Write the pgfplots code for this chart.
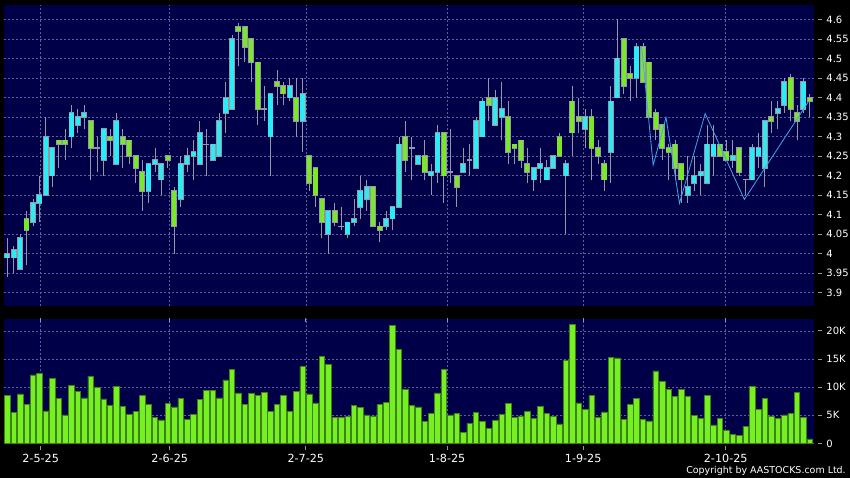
\documentclass[border=0pt]{standalone}
\usepackage{pgfplots}
\pgfplotsset{compat=1.18}
\usepackage{pgfplotstable}
\usepackage{fontspec}
\setmainfont{DejaVu Sans}

\definecolor{navy}{RGB}{0,0,72}
\definecolor{upc}{RGB}{45,235,245}
\definecolor{dnc}{RGB}{120,232,40}
\definecolor{volc}{RGB}{118,240,35}
\definecolor{volb}{RGB}{60,130,20}
\definecolor{wick}{RGB}{150,150,165}
\definecolor{gridc}{RGB}{95,95,160}
\definecolor{zig}{RGB}{70,165,235}

\pgfplotstableread{
x o h l c
0 3.99 4.04 3.94 4.00
1 3.99 4.02 3.95 4.01
2 3.96 4.05 3.96 4.04
3 4.09 4.11 3.97 4.06
4 4.08 4.14 4.07 4.13
5 4.13 4.20 4.08 4.15
6 4.15 4.35 4.15 4.30
7 4.20 4.27 4.17 4.27
8 4.29 4.29 4.22 4.28
9 4.29 4.32 4.24 4.28
10 4.30 4.38 4.27 4.36
11 4.33 4.37 4.31 4.35
12 4.35 4.38 4.32 4.36
13 4.34 4.34 4.19 4.27
14 4.27 4.30 4.21 4.27
15 4.24 4.32 4.20 4.32
16 4.30 4.32 4.25 4.29
17 4.23 4.36 4.23 4.34
18 4.30 4.32 4.22 4.28
19 4.29 4.29 4.23 4.25
20 4.25 4.25 4.18 4.22
21 4.21 4.24 4.11 4.16
22 4.16 4.23 4.13 4.23
23 4.23 4.27 4.21 4.24
24 4.19 4.23 4.15 4.23
25 4.25 4.25 4.22 4.24
26 4.16 4.17 4.00 4.07
27 4.14 4.25 4.12 4.23
28 4.23 4.27 4.21 4.25
29 4.25 4.29 4.19 4.26
30 4.23 4.34 4.23 4.31
31 4.28 4.32 4.20 4.28
32 4.24 4.28 4.24 4.28
33 4.25 4.36 4.25 4.34
34 4.36 4.44 4.31 4.40
35 4.37 4.56 4.37 4.55
36 4.58 4.59 4.48 4.57
37 4.58 4.58 4.49 4.53
38 4.55 4.55 4.44 4.49
39 4.49 4.49 4.33 4.37
40 4.37 4.43 4.34 4.37
41 4.30 4.41 4.20 4.41
42 4.44 4.47 4.38 4.43
43 4.43 4.44 4.38 4.41
44 4.40 4.45 4.39 4.43
45 4.40 4.45 4.30 4.34
46 4.34 4.45 4.26 4.41
47 4.25 4.25 4.16 4.18
48 4.22 4.22 4.12 4.15
49 4.14 4.14 4.04 4.08
50 4.05 4.11 4.00 4.11
51 4.11 4.13 4.07 4.08
52 4.07 4.12 4.06 4.07
53 4.05 4.08 4.04 4.08
54 4.08 4.14 4.07 4.09
55 4.12 4.20 4.09 4.16
56 4.14 4.19 4.11 4.17
57 4.17 4.17 4.07 4.07
58 4.07 4.08 4.03 4.06
59 4.07 4.11 4.06 4.09
60 4.09 4.12 4.06 4.12
61 4.12 4.30 4.12 4.28
62 4.30 4.34 4.21 4.24
63 4.27 4.30 4.19 4.27
64 4.23 4.25 4.23 4.25
65 4.25 4.29 4.19 4.21
66 4.20 4.23 4.15 4.21
67 4.21 4.33 4.18 4.31
68 4.31 4.31 4.13 4.20
69 4.21 4.32 4.18 4.21
70 4.20 4.20 4.12 4.17
71 4.21 4.27 4.21 4.23
72 4.24 4.28 4.20 4.24
73 4.22 4.35 4.22 4.34
74 4.30 4.40 4.30 4.39
75 4.40 4.45 4.34 4.38
76 4.33 4.42 4.33 4.40
77 4.35 4.44 4.29 4.37
78 4.35 4.39 4.23 4.26
79 4.28 4.28 4.23 4.27
80 4.29 4.29 4.22 4.24
81 4.23 4.27 4.18 4.21
82 4.19 4.22 4.16 4.22
83 4.22 4.27 4.18 4.23
84 4.19 4.24 4.19 4.22
85 4.22 4.25 4.22 4.25
86 4.30 4.31 4.25 4.25
87 4.20 4.24 4.05 4.23
88 4.39 4.43 4.25 4.31
89 4.35 4.40 4.31 4.34
90 4.32 4.37 4.27 4.35
91 4.35 4.37 4.19 4.27
92 4.27 4.29 4.23 4.25
93 4.23 4.24 4.16 4.19
94 4.26 4.43 4.18 4.39
95 4.40 4.60 4.40 4.50
96 4.55 4.55 4.41 4.43
97 4.46 4.48 4.39 4.45
98 4.45 4.54 4.40 4.53
99 4.53 4.54 4.44 4.44
100 4.49 4.49 4.35 4.35
101 4.36 4.37 4.29 4.32
102 4.33 4.33 4.24 4.27
103 4.27 4.28 4.19 4.26
104 4.28 4.29 4.19 4.22
105 4.23 4.23 4.13 4.19
106 4.15 4.25 4.13 4.17
107 4.18 4.25 4.16 4.20
108 4.20 4.23 4.15 4.21
109 4.18 4.33 4.18 4.28
110 4.25 4.33 4.20 4.28
111 4.28 4.28 4.25 4.25
112 4.26 4.29 4.24 4.24
113 4.24 4.29 4.22 4.25
114 4.27 4.27 4.20 4.21
115 4.19 4.19 4.15 4.19
116 4.19 4.28 4.19 4.27
117 4.25 4.31 4.22 4.27
118 4.22 4.34 4.17 4.34
119 4.35 4.39 4.31 4.34
120 4.36 4.39 4.32 4.37
121 4.38 4.45 4.36 4.44
122 4.45 4.46 4.34 4.37
123 4.36 4.38 4.29 4.34
124 4.37 4.45 4.36 4.44
125 4.40 4.41 4.35 4.39
}\ohlc

\pgfplotstableread{
x v
0 8.5
1 5.5
2 8.8
3 6.9
4 12.2
5 12.5
6 5.8
7 11.5
8 8.0
9 5.1
10 10.3
11 9.3
12 8.1
13 11.9
14 10.0
15 7.9
16 6.7
17 10.1
18 6.6
19 5.2
20 5.7
21 8.5
22 6.9
23 4.6
24 4.2
25 7.1
26 6.5
27 8.0
28 4.3
29 5.2
30 7.8
31 9.4
32 9.4
33 8.1
34 11.3
35 13.1
36 9.0
37 6.9
38 8.9
39 8.6
40 9.1
41 5.7
42 6.9
43 8.6
44 5.7
45 9.3
46 13.7
47 8.8
48 7.2
49 15.4
50 14.1
51 4.6
52 4.6
53 4.8
54 6.8
55 6.4
56 5.1
57 4.9
58 6.9
59 7.3
60 20.9
61 16.7
62 9.6
63 6.8
64 6.5
65 3.9
66 5.3
67 9.0
68 13.2
69 5.1
70 5.3
71 2.0
72 3.6
73 5.5
74 3.9
75 2.7
76 4.1
77 5.2
78 7.1
79 4.7
80 4.9
81 5.7
82 4.5
83 6.6
84 5.3
85 4.8
86 3.5
87 14.8
88 21.1
89 7.2
90 6.1
91 8.5
92 4.7
93 5.6
94 15.3
95 15.2
96 4.3
97 7.0
98 8.0
99 4.3
100 4.0
101 12.9
102 11.0
103 9.6
104 8.4
105 9.6
106 8.4
107 5.0
108 4.5
109 8.5
110 3.3
111 4.5
112 2.3
113 1.6
114 1.5
115 3.1
116 10.1
117 6.0
118 8.0
119 4.9
120 4.4
121 5.1
122 5.3
123 9.1
124 4.7
125 0.8
}\vol

\pgfplotsset{
  chartbase/.style={
    scale only axis,
    width=607.5pt,
    xmin=-0.51, xmax=125.65,
    axis background/.style={fill=navy},
    axis line style={draw=none},
    xtick={5.2,25.3,46.5,68.5,89.7,111.9},
    grid=major,
    major grid style={gridc, line width=0.4pt, dash pattern=on 1.5pt off 1.5pt},
    ytick pos=right, yticklabel pos=right,
    tick align=outside,
    major tick length=3pt,
    tick style={color=wick, line width=0.6pt},
    ytick style={xshift=3pt},
    xtick style={yshift=-2.2pt},
    yticklabel style={font=\fontsize{7.5}{9}\selectfont, text=white, xshift=2.8pt},
    xticklabel style={font=\fontsize{8.4}{10}\selectfont, text=white, yshift=-1.5pt},
    /pgf/number format/assume math mode=true,
  },
  barlayer/.style={draw=none, mark=none, forget plot,
    error bars/.cd, y dir=plus, y explicit, error mark=none,
    error bar style={solid, line cap=butt, #1}},
}

\begin{document}
\begin{tikzpicture}
\fill[black] (0pt,0pt) rectangle (637.5pt,358.5pt);

% price panel
\begin{axis}[chartbase,
  at={(3pt,129pt)}, anchor=south west,
  height=225.75pt,
  ymin=3.866, ymax=4.637,
  ytick={3.9,3.95,4,4.05,4.1,4.15,4.2,4.25,4.3,4.35,4.4,4.45,4.5,4.55,4.6},
  yticklabels={3.9,3.95,4,4.05,4.1,4.15,4.2,4.25,4.3,4.35,4.4,4.45,4.5,4.55,4.6},
  xticklabels={},
  xtick style={draw=none},
]
% wicks: low to high
\addplot[barlayer={draw=wick, line width=0.6pt}]
  table[x=x, y=l, y error plus expr={\thisrow{h}-\thisrow{l}}] {\ohlc};
% body outline: open/close range widened by the outline
\addplot[barlayer={draw=wick, line width=4.4pt}]
  table[x=x, y expr={min(\thisrow{o},\thisrow{c})-0.0021},
        y error plus expr={abs(\thisrow{c}-\thisrow{o})+0.0042}] {\ohlc};
% rising bodies (close >= open)
\addplot[barlayer={draw=upc, line width=3.2pt}]
  table[x=x, y expr={min(\thisrow{o},\thisrow{c})},
        y error plus expr={\thisrow{c}<\thisrow{o} ? 0 : \thisrow{c}-\thisrow{o}}] {\ohlc};
% falling bodies (close < open)
\addplot[barlayer={draw=dnc, line width=3.2pt}]
  table[x=x, y expr={min(\thisrow{o},\thisrow{c})},
        y error plus expr={\thisrow{c}<\thisrow{o} ? \thisrow{o}-\thisrow{c} : 0}] {\ohlc};
\addplot[zig, line width=0.6pt] coordinates {
(98.8,4.53) (100.6,4.227) (102.6,4.349) (104.7,4.129) (108.7,4.359) (114.8,4.139) (124.8,4.39)};
\end{axis}

% volume panel
\begin{axis}[chartbase,
  at={(3pt,25.875pt)}, anchor=south west,
  height=93.375pt,
  ymin=0, ymax=22.1,
  ytick={0,5,10,15,20},
  yticklabels={0,5K,10K,15K,20K},
  xticklabels={2-5-25,2-6-25,2-7-25,1-8-25,1-9-25,2-10-25},
]
\addplot[ybar, bar width=0.86, bar shift=0pt, fill=volc, draw=volb, line width=0.4pt] table[x=x, y=v] {\vol};
\end{axis}

\node[anchor=base east, text=white, font=\fontsize{7.1}{8}\selectfont, inner sep=0pt] at (634.5pt,3.4pt) {Copyright by AASTOCKS.com Ltd.};

\pgfresetboundingbox
\path (0pt,0pt) rectangle (637.5pt,358.5pt);
\end{tikzpicture}
\end{document}
